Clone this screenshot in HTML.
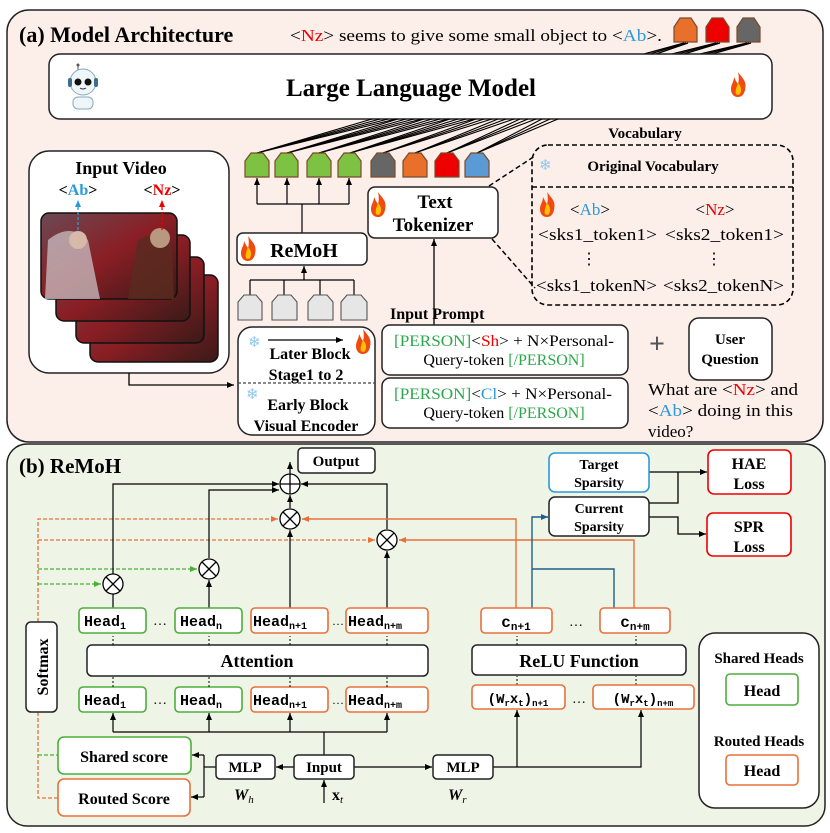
<!DOCTYPE html>
<html><head><meta charset="utf-8"><style>
html,body{margin:0;padding:0;background:#fff}
svg{display:block}
text{font-family:"Liberation Serif",serif}
.b{font-weight:bold}
.m{font-family:"Liberation Mono",monospace;font-weight:bold}
</style></head><body>
<svg width="830" height="833" viewBox="0 0 830 833" xmlns="http://www.w3.org/2000/svg">
<defs>
<marker id="ar" markerWidth="8" markerHeight="8" refX="7" refY="4" orient="auto" markerUnits="userSpaceOnUse"><path d="M0,1 L7,4 L0,7 Z" fill="#000"/></marker>
<marker id="ao" markerWidth="8" markerHeight="8" refX="7" refY="4" orient="auto" markerUnits="userSpaceOnUse"><path d="M0,1 L7,4 L0,7 Z" fill="#e8703a"/></marker>
<marker id="ag" markerWidth="8" markerHeight="8" refX="7" refY="4" orient="auto" markerUnits="userSpaceOnUse"><path d="M0,1 L7,4 L0,7 Z" fill="#4caf3a"/></marker>
<marker id="ab" markerWidth="8" markerHeight="8" refX="7" refY="4" orient="auto" markerUnits="userSpaceOnUse"><path d="M0,1 L7,4 L0,7 Z" fill="#1f5f8b"/></marker>
<marker id="ac" markerWidth="8" markerHeight="8" refX="7" refY="4" orient="auto" markerUnits="userSpaceOnUse"><path d="M0,1 L7,4 L0,7 Z" fill="#2a9ad8"/></marker>
<marker id="arr" markerWidth="8" markerHeight="8" refX="7" refY="4" orient="auto" markerUnits="userSpaceOnUse"><path d="M0,1 L7,4 L0,7 Z" fill="#e00"/></marker>
<g id="fire"><path d="M7,0 C12,7 16,9 14,18 C13,23 10,25 7,25 C2,25 0,21 0,17 C0,12 3,10 3,5 C5,9 6,11 7,12 C8,9 8,4 7,0 Z" fill="#f04a10"/><path d="M7,11 C10,14 11,18 9,22 C8,23 6,23 5,22 C4,20 5,16 7,11 Z" fill="#ffc000"/></g>
<linearGradient id="vid" x1="0" y1="0" x2="1" y2="1"><stop offset="0" stop-color="#6b4a55"/><stop offset="0.5" stop-color="#8a1e24"/><stop offset="1" stop-color="#3a1a18"/></linearGradient>
</defs>

<!-- Panel A -->
<rect x="7" y="10" width="816" height="432" rx="22" fill="#fcefea" stroke="#222" stroke-width="1.5"/>
<text x="19" y="42" class="b" font-size="22">(a) Model Architecture</text>
<text x="290" y="41" font-size="17" textLength="372" lengthAdjust="spacingAndGlyphs">&lt;<tspan fill="#e00">Nz</tspan>&gt; seems to give some small object to &lt;<tspan fill="#2a9ad8">Ab</tspan>&gt;.</text>
<polygon points="674,27 680,18 691,18 697,27 697,42 674,42" fill="#e8702a" stroke="#7a4a2a" stroke-width="1.2"/>
<polygon points="706,27 712,18 723,18 729,27 729,42 706,42" fill="#ee0000" stroke="#7a4a2a" stroke-width="1.2"/>
<polygon points="737,27 743,18 754,18 760,27 760,42 737,42" fill="#666" stroke="#7a4a2a" stroke-width="1.2"/>
<g stroke="#000" stroke-width="1.3">
<line x1="644" y1="54" x2="684" y2="43"/><line x1="650" y1="54" x2="686" y2="43"/><line x1="656" y1="54" x2="688" y2="43"/>
<line x1="672" y1="54" x2="716" y2="43"/><line x1="678" y1="54" x2="718" y2="43"/><line x1="684" y1="54" x2="720" y2="43"/>
<line x1="700" y1="54" x2="747" y2="43"/><line x1="706" y1="54" x2="749" y2="43"/><line x1="712" y1="54" x2="751" y2="43"/>
</g>
<rect x="49" y="54" width="723" height="65" rx="11" fill="#fff" stroke="#222" stroke-width="1.5"/>
<text x="411" y="96" class="b" font-size="25" text-anchor="middle">Large Language Model</text>
<g>
<line x1="78" y1="66" x2="78" y2="73" stroke="#555"/><circle cx="78" cy="65" r="1.5" fill="#555"/>
<circle cx="83" cy="82" r="13" fill="#eef6fa" stroke="#8ab" stroke-width="1"/>
<rect x="68" y="78" width="4" height="9" rx="2" fill="#3a6e8e"/><rect x="94" y="78" width="4" height="9" rx="2" fill="#3a6e8e"/>
<circle cx="78" cy="82" r="3.5" fill="#111"/><circle cx="88" cy="82" r="3.5" fill="#111"/>
<path d="M80,88 Q83,90 86,88" stroke="#333" fill="none"/>
<rect x="73" y="97" width="20" height="12" rx="5" fill="#eef6fa" stroke="#8ab"/>
</g>
<use href="#fire" x="731" y="72"/>

<g stroke="#000" stroke-width="1.1">
<line x1="257" y1="153" x2="372" y2="119"/><line x1="257" y1="153" x2="380" y2="119"/><line x1="257" y1="153" x2="388" y2="119"/><line x1="257" y1="153" x2="396" y2="119"/>
<line x1="287" y1="153" x2="398" y2="119"/><line x1="287" y1="153" x2="406" y2="119"/><line x1="287" y1="153" x2="414" y2="119"/><line x1="287" y1="153" x2="422" y2="119"/>
<line x1="319" y1="153" x2="424" y2="119"/><line x1="319" y1="153" x2="432" y2="119"/><line x1="319" y1="153" x2="440" y2="119"/><line x1="319" y1="153" x2="448" y2="119"/>
<line x1="350" y1="153" x2="450" y2="119"/><line x1="350" y1="153" x2="458" y2="119"/><line x1="350" y1="153" x2="466" y2="119"/><line x1="350" y1="153" x2="474" y2="119"/>
<line x1="383" y1="153" x2="476" y2="119"/><line x1="383" y1="153" x2="484" y2="119"/><line x1="383" y1="153" x2="492" y2="119"/>
<line x1="415" y1="153" x2="498" y2="119"/><line x1="415" y1="153" x2="506" y2="119"/><line x1="415" y1="153" x2="514" y2="119"/>
<line x1="447" y1="153" x2="520" y2="119"/><line x1="447" y1="153" x2="528" y2="119"/><line x1="447" y1="153" x2="536" y2="119"/>
<line x1="477" y1="153" x2="542" y2="119"/><line x1="477" y1="153" x2="550" y2="119"/><line x1="477" y1="153" x2="558" y2="119"/>
</g>
<g stroke="#7a4a2a" stroke-width="1.2">
<polygon points="245,161 251,153 263,153 269,161 269,177 245,177" fill="#7dc242"/>
<polygon points="275,161 281,153 292,153 298,161 298,177 275,177" fill="#7dc242"/>
<polygon points="307,161 313,153 325,153 331,161 331,177 307,177" fill="#7dc242"/>
<polygon points="338,161 344,153 355,153 361,161 361,177 338,177" fill="#7dc242"/>
<polygon points="371,161 377,153 389,153 395,161 395,177 371,177" fill="#666"/>
<polygon points="403,161 409,153 421,153 427,161 427,177 403,177" fill="#e8702a"/>
<polygon points="435,161 441,153 453,153 459,161 459,177 435,177" fill="#ee0000"/>
<polygon points="465,161 471,153 483,153 489,161 489,177 465,177" fill="#5b9bd5"/>
</g>
<g stroke="#000" stroke-width="1.2" fill="none">
<line x1="302" y1="233" x2="302" y2="204"/>
<line x1="257" y1="204" x2="349" y2="204"/>
<line x1="257" y1="204" x2="257" y2="178" marker-end="url(#ar)"/>
<line x1="287" y1="204" x2="287" y2="178" marker-end="url(#ar)"/>
<line x1="319" y1="204" x2="319" y2="178" marker-end="url(#ar)"/>
<line x1="349" y1="204" x2="349" y2="178" marker-end="url(#ar)"/>
</g>

<!-- Input video -->
<rect x="29" y="151" width="200" height="222" rx="20" fill="#fff" stroke="#222" stroke-width="1.5"/>
<text x="121" y="174" class="b" font-size="18" text-anchor="middle">Input Video</text>
<text x="78" y="195" class="b" font-size="16" text-anchor="middle">&lt;<tspan fill="#2a9ad8">Ab</tspan>&gt;</text>
<text x="162" y="195" class="b" font-size="16" text-anchor="middle">&lt;<tspan fill="#e00">Nz</tspan>&gt;</text>
<rect x="90" y="275" width="128" height="87" rx="8" fill="url(#vid)" stroke="#111" stroke-width="1.5"/>
<rect x="76" y="257" width="128" height="86" rx="8" fill="url(#vid)" stroke="#111" stroke-width="1.5"/>
<rect x="56" y="235" width="134" height="86" rx="8" fill="url(#vid)" stroke="#111" stroke-width="1.5"/>
<rect x="41" y="213" width="136" height="86" rx="8" fill="url(#vid)" stroke="#111" stroke-width="1.5"/>
<path d="M48,240 Q70,222 88,240 L100,299 L45,299 Z" fill="#c9c0c4" opacity="0.75"/>
<path d="M138,240 Q160,228 172,248 L174,299 L128,299 Z" fill="#5a2a20" opacity="0.85"/>
<circle cx="78" cy="240" r="9" fill="#d8b8a8"/><circle cx="160" cy="238" r="10" fill="#b89880"/>
<line x1="78" y1="230" x2="78" y2="200" stroke="#2a9ad8" stroke-width="1.3" stroke-dasharray="3,2" marker-end="url(#ac)"/>
<line x1="162" y1="230" x2="162" y2="200" stroke="#e00" stroke-width="1.3" stroke-dasharray="3,2" marker-end="url(#arr)"/>
<polyline points="129,373 129,385 234,385" fill="none" stroke="#000" stroke-width="1.3" marker-end="url(#ar)"/>

<rect x="237" y="233" width="130" height="32" rx="6" fill="#fff" stroke="#222" stroke-width="1.5"/>
<use href="#fire" x="241" y="236"/>
<text x="304" y="257" class="b" font-size="20" text-anchor="middle">ReMoH</text>
<g stroke="#000" stroke-width="1.2" fill="none">
<line x1="250" y1="280" x2="354" y2="280"/>
<line x1="250" y1="280" x2="250" y2="295"/><line x1="284" y1="280" x2="284" y2="295"/><line x1="320" y1="280" x2="320" y2="295"/><line x1="354" y1="280" x2="354" y2="295"/>
<line x1="304" y1="280" x2="304" y2="266" marker-end="url(#ar)"/>
</g>
<g stroke="#555" stroke-width="1.1" fill="#e6e6e6">
<polygon points="238,302 244,295 256,295 262,302 262,320 238,320"/>
<polygon points="272,302 278,295 291,295 297,302 297,320 272,320"/>
<polygon points="308,302 314,295 327,295 333,302 333,320 308,320"/>
<polygon points="341,302 347,295 361,295 367,302 367,320 341,320"/>
</g>
<rect x="238" y="327" width="137" height="108" rx="14" fill="#fff" stroke="#222" stroke-width="1.5"/>
<line x1="238" y1="383" x2="375" y2="383" stroke="#444" stroke-width="1.2" stroke-dasharray="3,2"/>
<line x1="268" y1="340" x2="343" y2="340" stroke="#000" stroke-width="1.3" marker-end="url(#ar)"/>
<text x="248" y="347" font-size="15" fill="#8fc8ef">❄</text>
<text x="246" y="399" font-size="15" fill="#8fc8ef">❄</text>
<use href="#fire" x="356" y="329"/>
<text x="310" y="359" class="b" font-size="16" text-anchor="middle">Later Block</text>
<text x="306" y="380" class="b" font-size="16" text-anchor="middle">Stage1 to 2</text>
<text x="308" y="410" class="b" font-size="16" text-anchor="middle">Early Block</text>
<text x="306" y="431" class="b" font-size="16" text-anchor="middle">Visual Encoder</text>

<rect x="368" y="187" width="130" height="51" rx="7" fill="#fff" stroke="#222" stroke-width="1.5"/>
<use href="#fire" x="371" y="192"/>
<text x="435" y="208" class="b" font-size="19" text-anchor="middle">Text</text>
<text x="433" y="231" class="b" font-size="19" text-anchor="middle">Tokenizer</text>
<line x1="434" y1="325" x2="434" y2="239" stroke="#000" stroke-width="1.3" marker-end="url(#ar)"/>
<line x1="489" y1="186" x2="535" y2="156" stroke="#000" stroke-width="1.5" stroke-dasharray="5,3"/>
<line x1="492" y1="239" x2="535" y2="288" stroke="#000" stroke-width="1.5" stroke-dasharray="5,3"/>

<text x="645" y="138" class="b" font-size="15" text-anchor="middle">Vocabulary</text>
<rect x="532" y="145" width="261" height="160" rx="16" fill="none" stroke="#000" stroke-width="1.6" stroke-dasharray="5,3"/>
<line x1="532" y1="187" x2="793" y2="187" stroke="#000" stroke-width="1.6" stroke-dasharray="5,3"/>
<text x="539" y="170" font-size="15" fill="#8fc8ef">❄</text>
<text x="653" y="171" class="b" font-size="15" text-anchor="middle">Original Vocabulary</text>
<use href="#fire" x="540" y="192"/>
<text x="590" y="215" font-size="17" text-anchor="middle">&lt;<tspan fill="#2a9ad8">Ab</tspan>&gt;</text>
<text x="715" y="215" font-size="17" text-anchor="middle">&lt;<tspan fill="#e00">Nz</tspan>&gt;</text>
<text x="538" y="240" font-size="17" textLength="119" lengthAdjust="spacingAndGlyphs">&lt;sks1_token1&gt;</text>
<text x="665" y="240" font-size="17" textLength="119" lengthAdjust="spacingAndGlyphs">&lt;sks2_token1&gt;</text>
<text x="589" y="264" font-size="16" text-anchor="middle">⋮</text>
<text x="714" y="264" font-size="16" text-anchor="middle">⋮</text>
<text x="536" y="291" font-size="17" textLength="121" lengthAdjust="spacingAndGlyphs">&lt;sks1_tokenN&gt;</text>
<text x="663" y="291" font-size="17" textLength="121" lengthAdjust="spacingAndGlyphs">&lt;sks2_tokenN&gt;</text>

<text x="390" y="319" class="b" font-size="16">Input Prompt</text>
<rect x="382" y="325" width="246" height="50" rx="8" fill="#fff" stroke="#222" stroke-width="1.5"/>
<rect x="382" y="378" width="246" height="50" rx="8" fill="#fff" stroke="#222" stroke-width="1.5"/>
<text x="394" y="346" font-size="16" textLength="220" lengthAdjust="spacingAndGlyphs"><tspan fill="#2aa84a">[PERSON]</tspan>&lt;<tspan fill="#e00">Sh</tspan>&gt; + N×Personal-</text>
<text x="504" y="365" font-size="16" text-anchor="middle">Query-token <tspan fill="#2aa84a">[/PERSON]</tspan></text>
<text x="394" y="399" font-size="16" textLength="218" lengthAdjust="spacingAndGlyphs"><tspan fill="#2aa84a">[PERSON]</tspan>&lt;<tspan fill="#2a9ad8">Cl</tspan>&gt; + N×Personal-</text>
<text x="504" y="418" font-size="16" text-anchor="middle">Query-token <tspan fill="#2aa84a">[/PERSON]</tspan></text>
<text x="657" y="353" class="b" font-size="28" fill="#555" text-anchor="middle">+</text>
<rect x="689" y="318" width="83" height="62" rx="10" fill="#fff" stroke="#222" stroke-width="1.5"/>
<text x="730" y="344" class="b" font-size="15" text-anchor="middle">User</text>
<text x="730" y="364" class="b" font-size="15" text-anchor="middle">Question</text>
<text x="648" y="395" font-size="17" textLength="150" lengthAdjust="spacingAndGlyphs">What are &lt;<tspan fill="#e00">Nz</tspan>&gt; and</text>
<text x="648" y="416" font-size="17" textLength="145" lengthAdjust="spacingAndGlyphs">&lt;<tspan fill="#2a9ad8">Ab</tspan>&gt; doing in this</text>
<text x="648" y="437" font-size="17">video?</text>

<!-- Panel B -->
<rect x="7" y="444" width="818" height="382" rx="20" fill="#eef4e6" stroke="#222" stroke-width="1.5"/>
<text x="19" y="473" class="b" font-size="21">(b) ReMoH</text>
<rect x="298" y="448" width="77" height="25" rx="4" fill="#fff" stroke="#222" stroke-width="1.5"/>
<text x="336" y="466" class="b" font-size="15" text-anchor="middle">Output</text>
<line x1="290" y1="474" x2="290" y2="462" stroke="#000" stroke-width="1.2" marker-end="url(#ar)"/>

<g fill="none" stroke-width="1.3" stroke-dasharray="4,2">
<polyline points="38,622 38,519 278,519" stroke="#e8703a" marker-end="url(#ao)"/>
<line x1="38" y1="540" x2="375" y2="540" stroke="#e8703a" marker-end="url(#ao)"/>
<line x1="38" y1="569" x2="197" y2="569" stroke="#4caf3a" marker-end="url(#ag)"/>
<line x1="38" y1="584" x2="101" y2="584" stroke="#4caf3a" marker-end="url(#ag)"/>
<polyline points="38,712 38,798 58,798" stroke="#e8703a"/>
<line x1="38" y1="755" x2="58" y2="755" stroke="#4caf3a"/>
</g>
<rect x="26" y="622" width="31" height="90" rx="5" fill="#fff" stroke="#222" stroke-width="1.5"/>
<text transform="translate(48,667) rotate(-90)" class="b" font-size="16" text-anchor="middle">Softmax</text>

<g fill="none" stroke="#000" stroke-width="1.2">
<polyline points="113,608 113,484 279,484" marker-end="url(#ar)"/>
<line x1="209" y1="608" x2="209" y2="580" marker-end="url(#ar)"/>
<polyline points="209,558 209,490 279,490" marker-end="url(#ar)"/>
<line x1="290" y1="608" x2="290" y2="530" marker-end="url(#ar)"/>
<line x1="290" y1="508" x2="290" y2="495" marker-end="url(#ar)"/>
<line x1="387" y1="608" x2="387" y2="551" marker-end="url(#ar)"/>
<polyline points="387,529 387,484 301,484" marker-end="url(#ar)"/>
</g>
<g fill="#fff" stroke="#000" stroke-width="1.3">
<circle cx="290" cy="484" r="10"/><path d="M280,484 H300 M290,474 V494"/>
<circle cx="290" cy="519" r="10"/><path d="M283,512 L297,526 M297,512 L283,526"/>
<circle cx="387" cy="540" r="10"/><path d="M380,533 L394,547 M394,533 L380,547"/>
<circle cx="209" cy="569" r="10"/><path d="M202,562 L216,576 M216,562 L202,576"/>
<circle cx="113" cy="584" r="10"/><path d="M106,577 L120,591 M120,577 L106,591"/>
</g>

<g fill="#fff" stroke-width="1.6">
<rect x="79" y="608" width="67" height="25" rx="4" stroke="#4caf3a"/>
<rect x="175" y="608" width="67" height="25" rx="4" stroke="#4caf3a"/>
<rect x="251" y="608" width="77" height="25" rx="4" stroke="#e8703a"/>
<rect x="346" y="608" width="82" height="25" rx="4" stroke="#e8703a"/>
<rect x="79" y="687" width="67" height="25" rx="4" stroke="#4caf3a"/>
<rect x="175" y="687" width="67" height="25" rx="4" stroke="#4caf3a"/>
<rect x="251" y="687" width="77" height="25" rx="4" stroke="#e8703a"/>
<rect x="346" y="687" width="82" height="25" rx="4" stroke="#e8703a"/>
</g>
<g font-size="15">
<text x="84" y="626" class="m">Head<tspan font-size="10" dy="3">1</tspan></text>
<text x="180" y="626" class="m">Head<tspan font-size="10" dy="3">n</tspan></text>
<text x="253" y="626" class="m">Head<tspan font-size="10" dy="3">n+1</tspan></text>
<text x="348" y="626" class="m">Head<tspan font-size="10" dy="3">n+m</tspan></text>
<text x="84" y="705" class="m">Head<tspan font-size="10" dy="3">1</tspan></text>
<text x="180" y="705" class="m">Head<tspan font-size="10" dy="3">n</tspan></text>
<text x="253" y="705" class="m">Head<tspan font-size="10" dy="3">n+1</tspan></text>
<text x="348" y="705" class="m">Head<tspan font-size="10" dy="3">n+m</tspan></text>
<text x="160" y="625" font-size="14" text-anchor="middle">…</text>
<text x="160" y="704" font-size="14" text-anchor="middle">…</text>
<text x="338" y="625" font-size="12" text-anchor="middle">…</text>
<text x="338" y="704" font-size="12" text-anchor="middle">…</text>
</g>
<rect x="87" y="645" width="341" height="31" rx="5" fill="#fff" stroke="#222" stroke-width="1.5"/>
<text x="257" y="667" class="b" font-size="18" text-anchor="middle">Attention</text>
<g stroke="#000" stroke-width="1" stroke-dasharray="2,2">
<line x1="113" y1="645" x2="113" y2="636"/><line x1="209" y1="645" x2="209" y2="636"/><line x1="290" y1="645" x2="290" y2="636"/><line x1="387" y1="645" x2="387" y2="636"/>
<line x1="113" y1="687" x2="113" y2="677"/><line x1="209" y1="687" x2="209" y2="677"/><line x1="290" y1="687" x2="290" y2="677"/><line x1="387" y1="687" x2="387" y2="677"/>
<line x1="517" y1="645" x2="517" y2="636"/><line x1="636" y1="645" x2="636" y2="636"/>
<line x1="517" y1="685" x2="517" y2="676"/><line x1="636" y1="685" x2="636" y2="676"/>
</g>
<g fill="none" stroke="#000" stroke-width="1.2">
<line x1="113" y1="732" x2="387" y2="732"/>
<line x1="113" y1="732" x2="113" y2="713" marker-end="url(#ar)"/>
<line x1="209" y1="732" x2="209" y2="713" marker-end="url(#ar)"/>
<line x1="290" y1="732" x2="290" y2="713" marker-end="url(#ar)"/>
<line x1="387" y1="732" x2="387" y2="713" marker-end="url(#ar)"/>
<line x1="324" y1="755" x2="324" y2="732"/>
<line x1="294" y1="767" x2="276" y2="767" marker-end="url(#ar)"/>
<polyline points="216,767 204,767"/>
<polyline points="204,755 204,797"/>
<line x1="204" y1="755" x2="192" y2="755" marker-end="url(#ar)"/>
<line x1="204" y1="797" x2="191" y2="797" marker-end="url(#ar)"/>
<line x1="354" y1="767" x2="432" y2="767" marker-end="url(#ar)"/>
<line x1="324" y1="803" x2="324" y2="780" marker-end="url(#ar)"/>
<polyline points="493,767 641,767 641,710" marker-end="url(#ar)"/>
<line x1="517" y1="767" x2="517" y2="710" marker-end="url(#ar)"/>
</g>
<rect x="58" y="737" width="133" height="37" rx="6" fill="#fff" stroke="#4caf3a" stroke-width="1.6"/>
<text x="124" y="762" class="b" font-size="16" text-anchor="middle">Shared score</text>
<rect x="58" y="779" width="132" height="37" rx="6" fill="#fff" stroke="#e8703a" stroke-width="1.6"/>
<text x="124" y="804" class="b" font-size="16" text-anchor="middle">Routed Score</text>
<rect x="216" y="755" width="59" height="24" rx="4" fill="#fff" stroke="#222" stroke-width="1.5"/>
<text x="245" y="772" class="b" font-size="15" text-anchor="middle">MLP</text>
<rect x="294" y="755" width="60" height="24" rx="4" fill="#fff" stroke="#222" stroke-width="1.5"/>
<text x="324" y="772" class="b" font-size="15" text-anchor="middle">Input</text>
<rect x="433" y="755" width="60" height="24" rx="4" fill="#fff" stroke="#222" stroke-width="1.5"/>
<text x="463" y="772" class="b" font-size="15" text-anchor="middle">MLP</text>
<text x="234" y="800" class="b" font-size="16" font-style="italic">W<tspan font-size="11" dy="3" font-weight="normal">h</tspan></text>
<text x="332" y="800" class="b" font-size="16">x<tspan font-size="11" dy="3" font-style="italic" font-weight="normal">t</tspan></text>
<text x="448" y="800" class="b" font-size="16" font-style="italic">W<tspan font-size="11" dy="3" font-weight="normal">r</tspan></text>

<g fill="none" stroke-width="1.4">
<polyline points="516,608 516,519 302,519" stroke="#e8703a" marker-end="url(#ao)"/>
<polyline points="634,608 634,540 399,540" stroke="#e8703a" marker-end="url(#ao)"/>
<polyline points="532,608 532,517 548,517" stroke="#1f5f8b" marker-end="url(#ab)"/>
<polyline points="614,608 614,569 532,569" stroke="#1f5f8b"/>
</g>
<g fill="#fff" stroke-width="1.6" stroke="#e8703a">
<rect x="481" y="608" width="71" height="25" rx="4"/>
<rect x="600" y="608" width="70" height="25" rx="4"/>
<rect x="472" y="685" width="93" height="24" rx="4"/>
<rect x="593" y="685" width="101" height="24" rx="4"/>
</g>
<text x="516" y="627" class="m" font-size="16" text-anchor="middle">c<tspan font-size="11" dy="3">n+1</tspan></text>
<text x="635" y="627" class="m" font-size="16" text-anchor="middle">c<tspan font-size="11" dy="3">n+m</tspan></text>
<text x="576" y="626" font-size="14" text-anchor="middle">…</text>
<text x="518" y="703" class="m" font-size="14" text-anchor="middle">(W<tspan font-size="9" dy="3">r</tspan><tspan dy="-3">x</tspan><tspan font-size="9" dy="3">t</tspan><tspan dy="-3">)</tspan><tspan font-size="9" dy="3">n+1</tspan></text>
<text x="643" y="703" class="m" font-size="14" text-anchor="middle">(W<tspan font-size="9" dy="3">r</tspan><tspan dy="-3">x</tspan><tspan font-size="9" dy="3">t</tspan><tspan dy="-3">)</tspan><tspan font-size="9" dy="3">n+m</tspan></text>
<text x="579" y="703" font-size="14" text-anchor="middle">…</text>
<rect x="472" y="645" width="214" height="30" rx="5" fill="#fff" stroke="#222" stroke-width="1.5"/>
<text x="579" y="667" class="b" font-size="18" text-anchor="middle">ReLU Function</text>

<g fill="none" stroke="#000" stroke-width="1.3">
<line x1="649" y1="472" x2="707" y2="472" marker-end="url(#ar)"/>
<polyline points="649,503 678,503 678,472"/>
<polyline points="649,517 678,517 678,534 706,534" marker-end="url(#ar)"/>
</g>
<rect x="549" y="453" width="100" height="39" rx="6" fill="#fff" stroke="#2a9ad8" stroke-width="1.6"/>
<text x="599" y="469" class="b" font-size="14" text-anchor="middle">Target</text>
<text x="599" y="487" class="b" font-size="14" text-anchor="middle">Sparsity</text>
<rect x="549" y="497" width="100" height="39" rx="6" fill="#fff" stroke="#222" stroke-width="1.5"/>
<text x="599" y="513" class="b" font-size="14" text-anchor="middle">Current</text>
<text x="599" y="531" class="b" font-size="14" text-anchor="middle">Sparsity</text>
<rect x="708" y="450" width="83" height="44" rx="6" fill="#fff" stroke="#e00" stroke-width="1.6"/>
<text x="749" y="469" class="b" font-size="16" text-anchor="middle">HAE</text>
<text x="749" y="489" class="b" font-size="16" text-anchor="middle">Loss</text>
<rect x="707" y="513" width="84" height="43" rx="6" fill="#fff" stroke="#e00" stroke-width="1.6"/>
<text x="749" y="532" class="b" font-size="16" text-anchor="middle">SPR</text>
<text x="749" y="552" class="b" font-size="16" text-anchor="middle">Loss</text>

<rect x="699" y="633" width="120" height="175" rx="16" fill="#fff" stroke="#222" stroke-width="1.5"/>
<text x="759" y="663" class="b" font-size="15" text-anchor="middle">Shared Heads</text>
<rect x="726" y="674" width="72" height="31" rx="4" fill="#fff" stroke="#4caf3a" stroke-width="1.6"/>
<text x="762" y="696" class="b" font-size="16" text-anchor="middle">Head</text>
<text x="759" y="746" class="b" font-size="15" text-anchor="middle">Routed Heads</text>
<rect x="726" y="755" width="72" height="30" rx="4" fill="#fff" stroke="#e8703a" stroke-width="1.6"/>
<text x="762" y="776" class="b" font-size="16" text-anchor="middle">Head</text>
</svg>
</body></html>
